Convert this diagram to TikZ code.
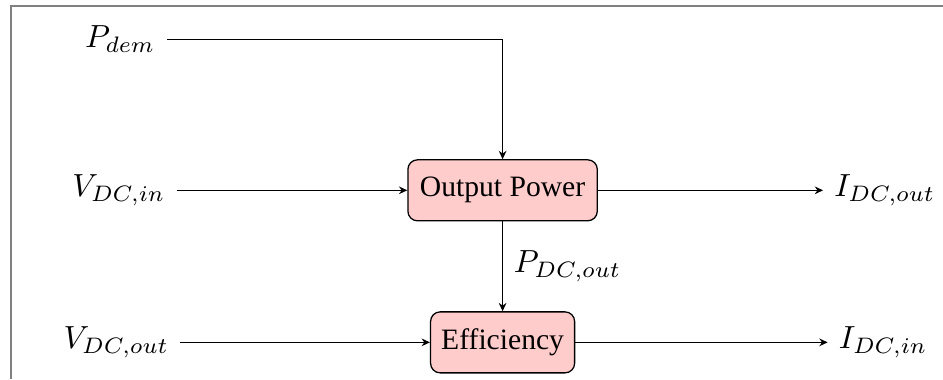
\documentclass[tikz,border=0pt]{standalone}
\usepackage{fontspec}
\setmainfont{Liberation Serif}
\usetikzlibrary{arrows.meta, positioning}

\begin{document}
\begin{tikzpicture}[
    block/.style={rectangle, draw, rounded corners=3pt, align=center, minimum height=0.67cm, minimum width=2.08cm, fill=red!20, font=\fontsize{9.25}{11}\selectfont},
    arrow/.style={-{Stealth[length=2.6pt, width=2.4pt]}}
]
\useasboundingbox (0,0) rectangle (10.357,-4.163);

% Frame
\draw[gray, line width=0.6pt] (0.12,-4.163) -- (0.12,-0.07) -- (10.357,-0.07);

% Blocks
\node[block] (power) at (5.52,-2.09) {Output Power};
\node[block, minimum width=1.52cm] (eff) at (5.52,-3.76) {Efficiency};

% Inputs and outputs
\node[anchor=east] (pdem) at (1.83,-0.43) {$P_{dem}$};
\node[anchor=east] (vin)  at (1.94,-2.09) {$V_{DC,in}$};
\node[anchor=east] (vout) at (1.98,-3.76) {$V_{DC,out}$};
\node[anchor=west] (iout) at (9.04,-2.09) {$I_{DC,out}$};
\node[anchor=west] (iin)  at (9.09,-3.76) {$I_{DC,in}$};

% Connections
\draw[arrow] (pdem.east) -| (power.north);
\draw[arrow] (vin) -- (power);
\draw[arrow] (power) -- (iout);
\draw[arrow] (power) -- node[right] {$P_{DC,out}$} (eff);
\draw[arrow] (vout) -- (eff);
\draw[arrow] (eff) -- (iin);

\end{tikzpicture}
\end{document}
